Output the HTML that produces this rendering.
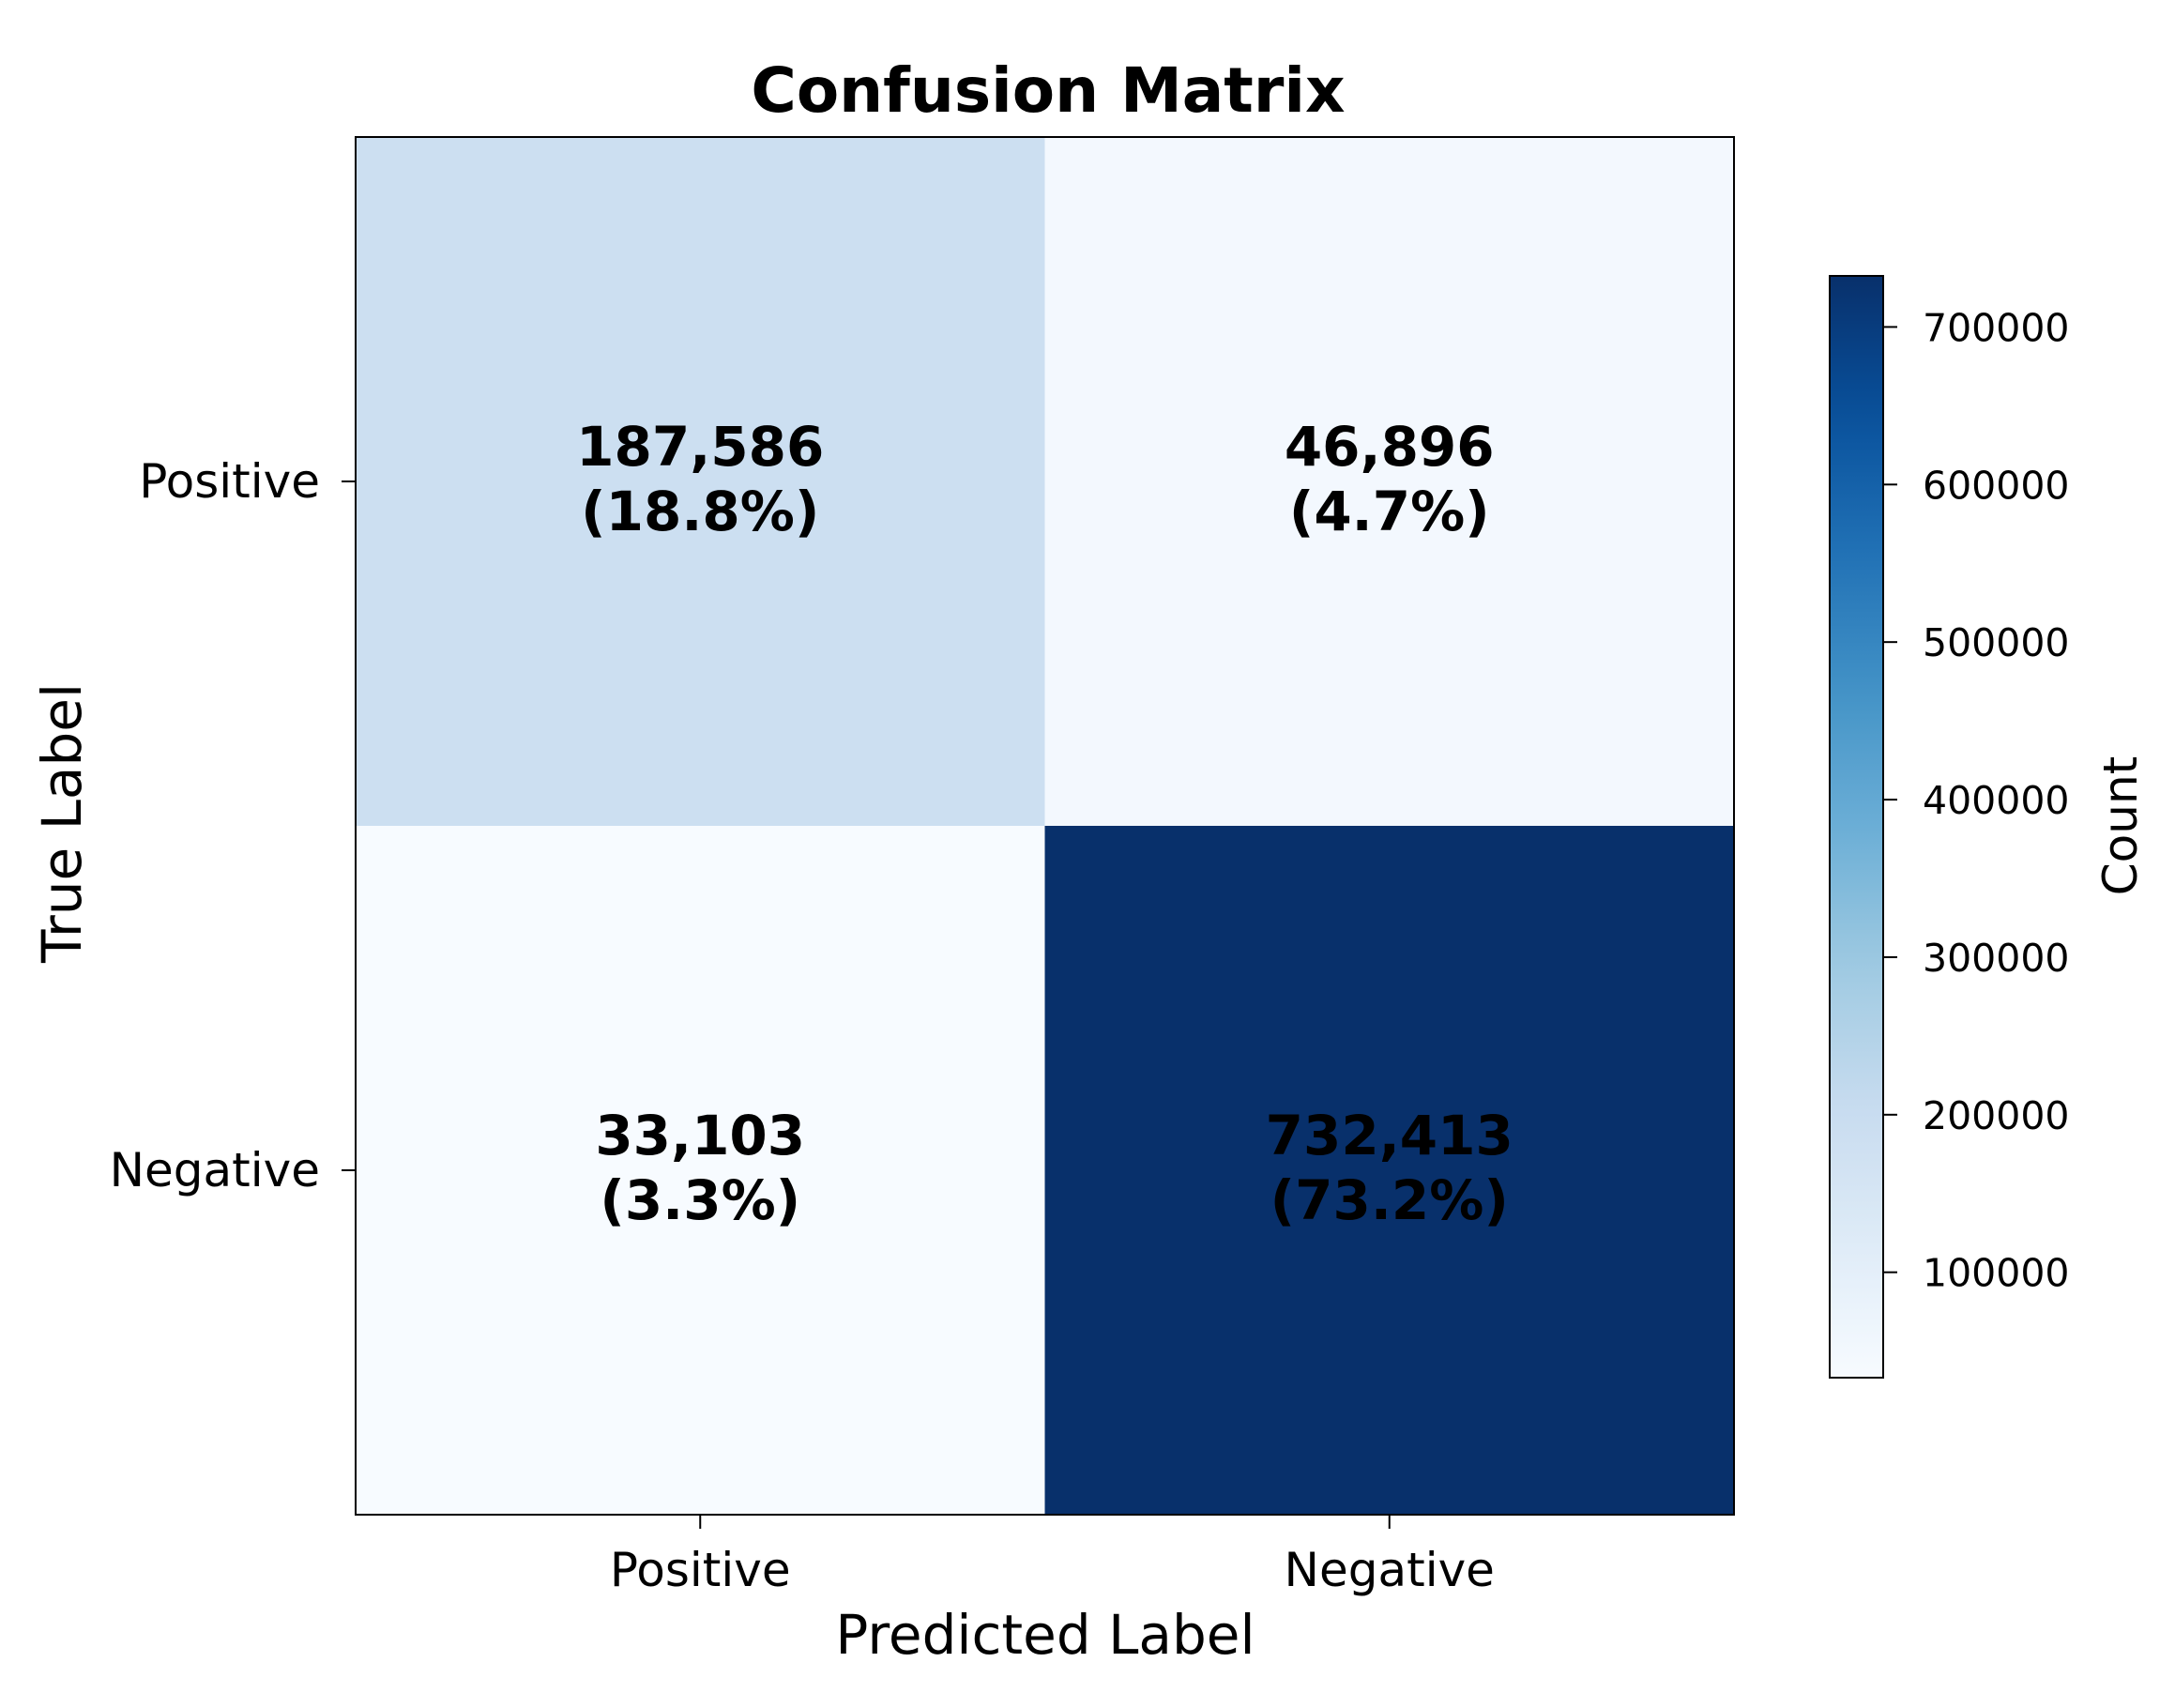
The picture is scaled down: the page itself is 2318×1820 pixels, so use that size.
<!DOCTYPE html>
<html><head><meta charset="utf-8"><style>
html,body{margin:0;padding:0;background:#fff;}
svg{display:block;font-family:"DejaVu Sans","Liberation Sans",sans-serif;}
</style></head><body>
<svg id="chart" width="2318" height="1820" viewBox="0 0 2318 1820" xmlns="http://www.w3.org/2000/svg">
<rect width="2318" height="1820" fill="#fff"/>
<text x="1117" y="119" text-anchor="middle" font-size="66" font-weight="bold">Confusion Matrix</text>
<g id="cells"></g>
<g id="axes"></g>
<g id="cbar"></g>
</svg>
<script>
const rowLabels = ["Positive", "Negative"];
const colLabels = ["Positive", "Negative"];
const counts = [[187586, 46896], [33103, 732413]];
const cbarTicks = [100000, 200000, 300000, 400000, 500000, 600000, 700000];

const NS = "http://www.w3.org/2000/svg";
const AX = {l:379, r:1848, t:146, b:1614};
const CB = {l:1950, r:2007, t:294, b:1468};
const flat = counts.flat();
const vmin = Math.min(...flat), vmax = Math.max(...flat);
const total = flat.reduce((a,b)=>a+b,0);
const stops = ["#f7fbff","#deebf7","#c6dbef","#9ecae1","#6baed6","#4292c6","#2171b5","#08519c","#08306b"];
function hex(c){return [1,3,5].map(i=>parseInt(c.substr(i,2),16));}
function blues(t){t=Math.max(0,Math.min(1,t));const p=t*8,i=Math.min(7,Math.floor(p)),f=p-i;
 const a=hex(stops[i]),b=hex(stops[i+1]);return "rgb("+a.map((v,k)=>Math.round(v+(b[k]-v)*f)).join(",")+")";}
function el(tag,attrs,parent,txt){const e=document.createElementNS(NS,tag);for(const k in attrs)e.setAttribute(k,attrs[k]);if(txt!==undefined)e.textContent=txt;parent.appendChild(e);return e;}
const nR=rowLabels.length,nC=colLabels.length;
const cw=(AX.r-AX.l)/nC, ch=(AX.b-AX.t)/nR;
const xc=j=>AX.l+cw*(j+0.5), yc=i=>AX.t+ch*(i+0.5);
const cells=document.getElementById('cells');
for(let i=0;i<nR;i++)for(let j=0;j<nC;j++){
 const v=counts[i][j];
 const r=el('rect',{x:AX.l+cw*j,y:AX.t+ch*i,width:cw+0.5,height:ch+0.5,fill:blues((v-vmin)/(vmax-vmin))},cells);
 
 
 const t=el('text',{x:xc(j),y:yc(i)-17,'text-anchor':'middle','font-size':'58','font-weight':'bold',fill:'#000'},cells,v.toLocaleString('en-US'));
 
 
 const p=el('text',{x:xc(j),y:yc(i)+52,'text-anchor':'middle','font-size':'58','font-weight':'bold',fill:'#000'},cells,'('+(v/total*100).toFixed(1)+'%)');
 
 
}
const axes=document.getElementById('axes');
const frame=el('rect',{x:AX.l,y:AX.t,width:AX.r-AX.l,height:AX.b-AX.t,fill:'none',stroke:'#000','stroke-width':2},axes);


colLabels.forEach((c,j)=>{
 el('line',{x1:xc(j),x2:xc(j),y1:AX.b,y2:AX.b+15,stroke:'#000','stroke-width':2},axes);
 const t=el('text',{x:xc(j),y:1690,'text-anchor':'middle','font-size':'50'},axes,c);
 
 
});
rowLabels.forEach((c,i)=>{
 el('line',{x1:AX.l-15,x2:AX.l,y1:yc(i),y2:yc(i),stroke:'#000','stroke-width':2},axes);
 const t=el('text',{x:AX.l-38,y:yc(i)+17,'text-anchor':'end','font-size':'50'},axes,c);
 
 
});
const xt=el('text',{x:1114,y:1762,'text-anchor':'middle','font-size':'58'},axes,'Predicted Label');


const yt=el('text',{x:0,y:0,'text-anchor':'middle','font-size':'58',transform:'translate(86,877) rotate(-90)'},axes,'True Label');


const cb=document.getElementById('cbar');
const defs=el('defs',{},cb);
const g=el('linearGradient',{id:'bg',x1:0,y1:1,x2:0,y2:0},defs);
for(let k=0;k<=20;k++)el('stop',{offset:k/20,'stop-color':blues(k/20)},g);
const bar=el('rect',{x:CB.l,y:CB.t,width:CB.r-CB.l,height:CB.b-CB.t,fill:'url(#bg)',stroke:'#000','stroke-width':2},cb);


const cy=v=>CB.b-(v-vmin)/(vmax-vmin)*(CB.b-CB.t);
cbarTicks.forEach(v=>{
 el('line',{x1:CB.r,x2:CB.r+15,y1:cy(v),y2:cy(v),stroke:'#000','stroke-width':2},cb);
 const t=el('text',{x:CB.r+42,y:cy(v)+15,'font-size':'41'},cb,String(v));
 
 
});
const cl=el('text',{x:0,y:0,'text-anchor':'middle','font-size':'50',transform:'translate(2277,880) rotate(-90)'},cb,'Count');


</script>
</body></html>
